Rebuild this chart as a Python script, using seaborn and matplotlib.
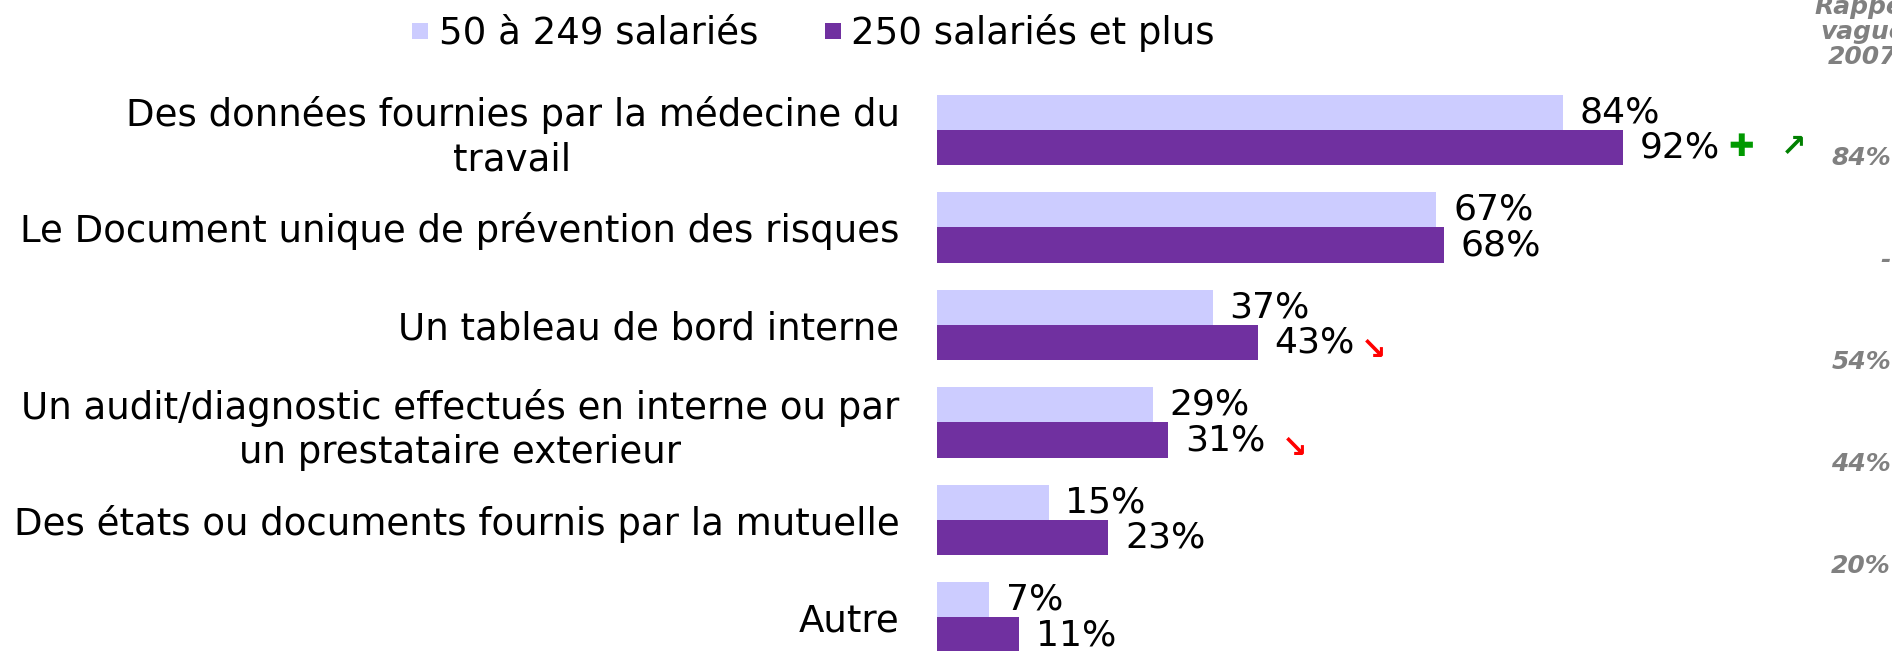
import matplotlib
matplotlib.use('Agg')
import matplotlib.pyplot as plt
from matplotlib.lines import Line2D
import numpy as np
import pandas as pd
import seaborn as sns

# Data
categories = [
    'Des données fournies par la médecine du\ntravail',
    'Le Document unique de prévention des risques',
    'Un tableau de bord interne',
    'Un audit/diagnostic effectués en interne ou par\nun prestataire exterieur',
    'Des états ou documents fournis par la mutuelle',
    'Autre',
]
small_firms = [84, 67, 37, 29, 15, 7]
large_firms = [92, 68, 43, 31, 23, 11]
series_names = ['50 à 249 salariés', '250 salariés et plus']
rappel_header = 'Rappel\nvague\n2007'
rappel_values = ['84%', '-', '54%', '44%', '20%']

# evolution markers on the "250 et plus" bars: (row, symbol, colour, dx px, dy px)
markers = [(0, '✚', '#009900', 105, 0), (0, '↗', '#008000', 158, 0),
           (2, '↘', '#FF0000', 103, -8), (3, '↘', '#FF0000', 114, -8)]

colors = ['#CCCCFF', '#7030A0']

df = pd.DataFrame({
    'categorie': categories * 2,
    'valeur': small_firms + large_firms,
    'taille': [series_names[0]] * len(categories) + [series_names[1]] * len(categories),
})

sns.set_style('white')
plt.rcParams['font.family'] = ['DejaVu Sans']
plt.rcParams['text.color'] = 'black'

fig = plt.figure(figsize=(18.92, 6.51), dpi=100)
ax = fig.add_axes([937 / 1892, 0, 745.5 / 1892, 1 - 32.5 / 651])

sns.barplot(data=df, x='valeur', y='categorie', hue='taille', orient='h',
            palette=colors, width=0.72, saturation=1, linewidth=0, ax=ax)
ax.get_legend().remove()

ax.set_xlim(0, 100)
ax.set_ylim(5.344, -1)
ax.set_xlabel('')
ax.set_ylabel('')
ax.set_xticks([])
for s in ax.spines.values():
    s.set_visible(False)
ax.tick_params(axis='y', length=0, pad=27, labelsize=26.7, labelcolor='black')
for lab in ax.get_yticklabels():
    lab.set_multialignment('center')
    lab.set_linespacing(1.25)

for cont in ax.containers:
    ax.bar_label(cont, fmt='%d%%', padding=12, fontsize=26, color='black')

for row, sym, col, dx, dy in markers:
    ax.annotate(sym, xy=(large_firms[row], row + 0.18), xytext=(dx, dy),
                textcoords='offset pixels', ha='left', va='center',
                fontsize=22, fontweight='bold', color=col, annotation_clip=False)

# legend
handles = [Line2D([0], [0], marker='s', linestyle='', markersize=11.5,
                  markerfacecolor=c, markeredgewidth=0) for c in colors]
leg = fig.legend(handles, series_names, loc='center', bbox_to_anchor=(813 / 1892, 1 - 33 / 651),
                 ncol=2, frameon=False, fontsize=26.7, handlelength=0.5, handletextpad=0.25,
                 columnspacing=1.75, borderpad=0)
for t in leg.get_texts():
    t.set_color('black')

# right column: reminder of 2007 wave
fig.text(1863 / 1892, 1 - 32 / 651, rappel_header, ha='center', va='center',
         fontsize=18, fontweight='bold', fontstyle='italic', color='#808080',
         linespacing=1.05)
for i, v in enumerate(rappel_values):
    fig.text(1891 / 1892, 1 - (158 + 102 * i) / 651, v, ha='right', va='center',
             fontsize=18, fontweight='bold', fontstyle='italic', color='#808080')

fig.savefig('out.png', dpi=100)
